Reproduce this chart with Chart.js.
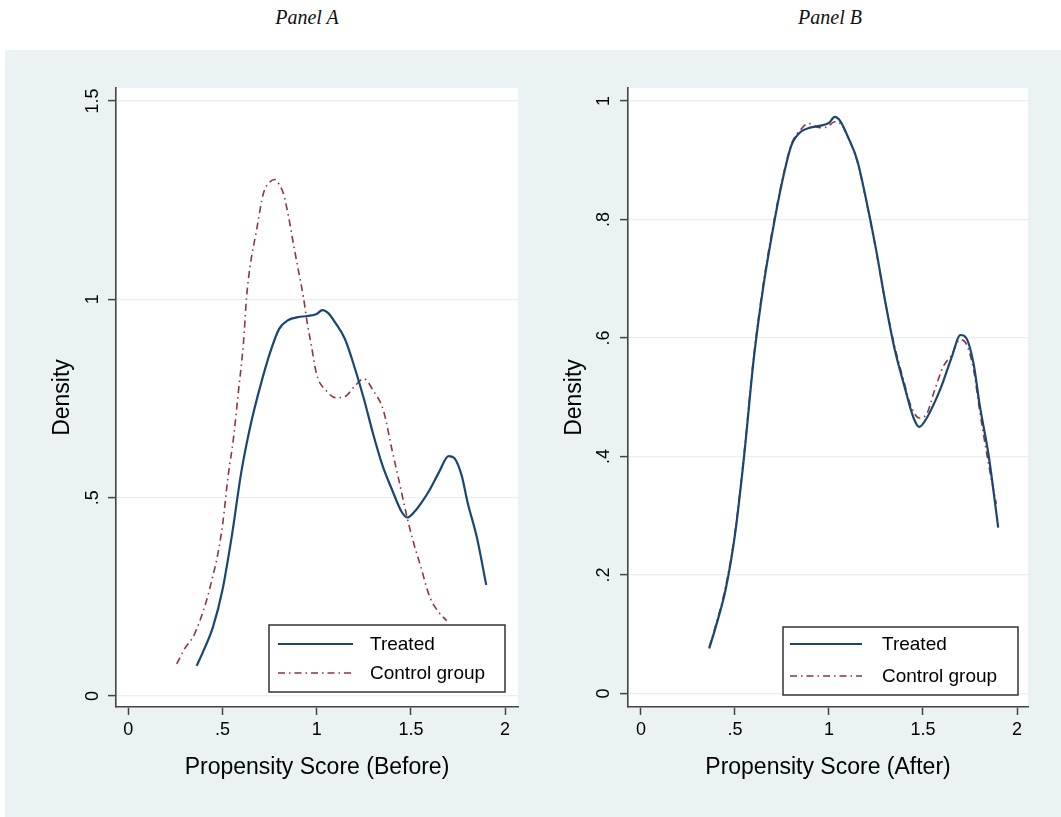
<!DOCTYPE html>
<html>
<head>
<meta charset="utf-8">
<script src="https://cdn.jsdelivr.net/npm/chart.js@4.4.0/dist/chart.umd.min.js"></script>
<style>
  body { margin: 0; background: #fff; width: 1061px; height: 817px; overflow: hidden; position: relative; }
  .bg { position: absolute; left: 5px; top: 50px; right: 0; bottom: 0; background: #eaf2f3; }
  .ptitle { position: absolute; top: 6px; width: 200px; text-align: center; font: italic 20px "Liberation Serif", serif; color: #111; }
  canvas { position: absolute; top: 50px; }
</style>
</head>
<body>
<div class="bg"></div>
<div class="ptitle" style="left:207px">Panel A</div>
<div class="ptitle" style="left:730px">Panel B</div>
<canvas id="chartA" width="530" height="767" style="left:0px"></canvas>
<canvas id="chartB" width="531" height="767" style="left:530px"></canvas>
<script>
// treated group density (same sample in both panels)
const treatedX = [0.363,0.40,0.45,0.50,0.55,0.60,0.65,0.70,0.75,0.80,0.85,0.90,0.95,1.00,1.03,1.06,1.10,1.15,1.20,1.25,1.30,1.35,1.40,1.45,1.48,1.52,1.56,1.60,1.65,1.70,1.73,1.77,1.80,1.85,1.90];
const treatedY = [0.076,0.115,0.175,0.268,0.405,0.565,0.685,0.78,0.862,0.925,0.948,0.955,0.958,0.963,0.973,0.966,0.94,0.90,0.83,0.75,0.66,0.58,0.52,0.465,0.45,0.465,0.49,0.52,0.565,0.605,0.60,0.555,0.49,0.40,0.28];

// control group before matching
const controlAX = [0.257,0.30,0.345,0.38,0.416,0.45,0.469,0.50,0.53,0.557,0.585,0.611,0.628,0.646,0.681,0.717,0.75,0.779,0.80,0.823,0.85,0.876,0.90,0.929,0.95,0.973,1.00,1.05,1.10,1.15,1.20,1.25,1.30,1.354,1.40,1.44,1.48,1.515,1.55,1.60,1.65,1.69];
const controlAY = [0.081,0.12,0.15,0.19,0.242,0.305,0.343,0.43,0.555,0.645,0.77,0.889,1.007,1.082,1.175,1.267,1.295,1.302,1.29,1.267,1.21,1.141,1.08,1.007,0.94,0.88,0.81,0.77,0.752,0.755,0.78,0.80,0.77,0.72,0.62,0.536,0.45,0.385,0.33,0.25,0.21,0.19];

// control group after matching
const controlBX = [0.363,0.40,0.45,0.50,0.55,0.60,0.65,0.70,0.75,0.80,0.85,0.89,0.95,0.99,1.03,1.06,1.10,1.15,1.20,1.25,1.30,1.35,1.40,1.43,1.48,1.52,1.56,1.608,1.65,1.697,1.73,1.77,1.80,1.85,1.89];
const controlBY = [0.078,0.118,0.18,0.272,0.41,0.57,0.69,0.785,0.865,0.927,0.952,0.962,0.955,0.956,0.965,0.962,0.94,0.898,0.828,0.748,0.66,0.585,0.525,0.49,0.465,0.472,0.51,0.552,0.57,0.597,0.59,0.545,0.48,0.385,0.32];

const xTicks = [0, 0.5, 1, 1.5, 2];
const yTicksA = [0, 0.5, 1, 1.5];
const yTicksB = [0, 0.2, 0.4, 0.6, 0.8, 1];

const pts = (xs, ys) => xs.map((x, i) => ({x: x, y: ys[i]}));
const stataLbl = v => String(Math.round(v * 10) / 10).replace(/^0\./, '.');

const FONT = '"Liberation Sans", Arial, sans-serif';
const NAVY = '#1a476f';
const MAROON = '#90353b';

// white plot region on the bluish background
const plotBg = {
  id: 'plotBg',
  beforeDraw(chart) {
    const {ctx, chartArea: a} = chart;
    ctx.save();
    ctx.fillStyle = '#fff';
    ctx.fillRect(a.left, a.top, a.right - a.left, a.bottom - a.top);
    ctx.restore();
  }
};

// stata style legend box in lower right corner
const boxLegend = {
  id: 'boxLegend',
  afterDatasetsDraw(chart, args, o) {
    const {ctx, chartArea: a} = chart;
    const x = a.right - o.right - o.width;
    const y = a.bottom - o.bottom - o.height;
    ctx.save();
    ctx.fillStyle = '#fff';
    ctx.fillRect(x, y, o.width, o.height);
    ctx.strokeStyle = '#333';
    ctx.lineWidth = 1.5;
    ctx.strokeRect(x, y, o.width, o.height);
    chart.data.datasets.forEach((ds, i) => {
      const ly = y + o.rows[i];
      ctx.beginPath();
      ctx.setLineDash(ds.borderDash || []);
      ctx.strokeStyle = ds.borderColor;
      ctx.lineWidth = ds.borderWidth;
      ctx.moveTo(x + o.lineStart, ly);
      ctx.lineTo(x + o.lineEnd, ly);
      ctx.stroke();
      ctx.setLineDash([]);
      ctx.fillStyle = '#000';
      ctx.font = '19px ' + FONT;
      ctx.textBaseline = 'middle';
      ctx.fillText(ds.label, x + o.textX, ly + 1);
    });
    ctx.restore();
  }
};

function makeChart(id, controlPts, cfg) {
  return new Chart(document.getElementById(id), {
    type: 'line',
    data: {
      datasets: [
        { label: 'Treated', data: pts(treatedX, treatedY), borderColor: NAVY, borderWidth: 2.2,
          pointRadius: 0, cubicInterpolationMode: 'monotone' },
        { label: 'Control group', data: controlPts, borderColor: MAROON, borderWidth: 1.6,
          borderDash: [7, 4, 1.5, 4], pointRadius: 0, cubicInterpolationMode: 'monotone' }
      ]
    },
    options: {
      responsive: false,
      animation: false,
      devicePixelRatio: 1,
      layout: { padding: { left: 0, right: cfg.padRight, top: 38, bottom: 0 } },
      plugins: {
        legend: { display: false },
        tooltip: { enabled: false },
        boxLegend: cfg.legend
      },
      scales: {
        x: {
          type: 'linear',
          min: cfg.xMin, max: cfg.xMax,
          afterBuildTicks: s => { s.ticks = xTicks.map(v => ({value: v})); },
          afterFit: s => { s.height = 110; },
          grid: { drawOnChartArea: false, tickLength: 8, tickColor: '#444', tickWidth: 1.5 },
          border: { display: true, color: '#444', width: 1.6 },
          ticks: { color: '#000', font: { family: FONT, size: 18 }, padding: 4, maxRotation: 0,
                   callback: v => stataLbl(v) },
          title: { display: true, text: cfg.xTitle, color: '#000', font: { family: FONT, size: 23 },
                   padding: { top: 0, bottom: 36 } }
        },
        y: {
          min: cfg.yMin, max: cfg.yMax,
          afterBuildTicks: s => { s.ticks = cfg.yTicks.map(v => ({value: v})); },
          afterFit: s => { s.width = cfg.yWidth; },
          grid: { color: '#e8eff0', lineWidth: 1.2, tickLength: 8, tickColor: '#444', tickWidth: 1.5 },
          border: { display: true, color: '#444', width: 1.6 },
          ticks: { color: '#000', font: { family: FONT, size: 18 }, padding: cfg.yPad,
                   minRotation: 90, maxRotation: 90, crossAlign: 'center',
                   callback: v => stataLbl(v) },
          title: { display: true, text: 'Density', color: '#000', font: { family: FONT, size: 23 },
                   padding: { top: cfg.yTitlePad, bottom: 0 } }
        }
      }
    },
    plugins: [plotBg, boxLegend]
  });
}

makeChart('chartA', pts(controlAX, controlAY), {
  xMin: -0.0653, xMax: 2.0685, yMin: -0.0277, yMax: 1.5328, yTicks: yTicksA,
  yWidth: 116, padRight: 12, yPad: 2, yTitlePad: 49,
  xTitle: 'Propensity Score (Before)',
  legend: { right: 13, bottom: 15, width: 236, height: 67, rows: [19, 48], lineStart: 9, lineEnd: 84, textX: 101 }
});

makeChart('chartB', pts(controlBX, controlBY), {
  xMin: -0.069, xMax: 2.0585, yMin: -0.0228, yMax: 1.0219, yTicks: yTicksB,
  yWidth: 98, padRight: 33, yPad: 8, yTitlePad: 31,
  xTitle: 'Propensity Score (After)',
  legend: { right: 10, bottom: 12, width: 235, height: 68, rows: [17, 49], lineStart: 7, lineEnd: 79, textX: 99 }
});
</script>
</body>
</html>
